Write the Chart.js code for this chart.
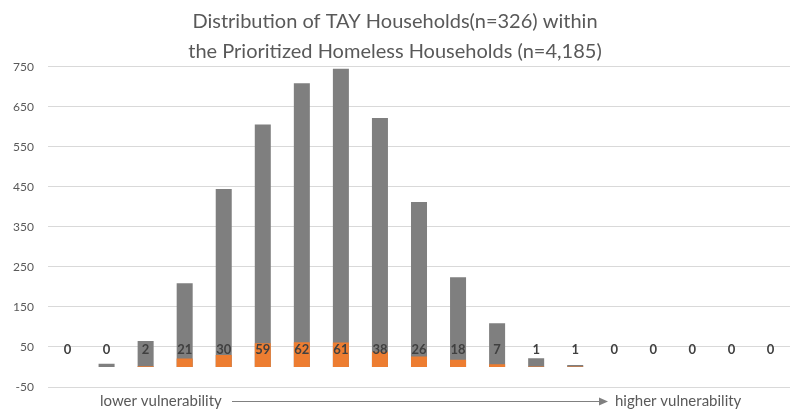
<!DOCTYPE html>
<html>
<head>
<meta charset="utf-8">
<script src="https://cdn.jsdelivr.net/npm/chart.js@4.4.1/dist/chart.umd.min.js"></script>
<style>
  html, body { margin: 0; padding: 0; background: #fff; }
  #wrap { width: 794px; height: 409px; }
</style>
</head>
<body>
<div id="wrap"><canvas id="myBarChart" width="794" height="409"></canvas></div>
<script>
const ctx = document.querySelector("#myBarChart").getContext("2d")

// vulnerability score buckets, low to high
const scores = ["0", "1", "2", "3", "4", "5", "6", "7", "8", "9", "10", "11", "12", "13", "14", "15", "16", "17", "18"]
// all prioritized homeless households per score
const allHouseholds = [0, 8, 65, 209, 445, 606, 709, 745, 622, 412, 224, 109, 22, 5, 0, 0, 0, 0, 0]
// TAY households per score
const tayHouseholds = [0, 0, 2, 21, 30, 59, 62, 61, 38, 26, 18, 7, 1, 1, 0, 0, 0, 0, 0]

const titleLines = ["Distribution of TAY Households(n=326) within", "the Prioritized Homeless Households (n=4,185)"]
const lowText = "lower vulnerability"
const highText = "higher vulnerability"

const textGray = "#595959"

// TAY counts written just above the zero line
const countLabels = {
    id: "countLabels",
    afterDatasetsDraw(chart) {
        const c = chart.ctx
        const meta = chart.getDatasetMeta(0)
        const y0 = chart.scales.y.getPixelForValue(0)
        c.save()
        c.font = "bold 13px Lato"
        c.fillStyle = "#404040"
        c.textAlign = "center"
        c.textBaseline = "middle"
        meta.data.forEach((bar, i) => {
            c.fillText(String(tayHouseholds[i]), bar.x, y0 - 17)
        })
        c.restore()
    }
}

// "lower -> higher" arrow under the plot
const vulnerabilityArrow = {
    id: "vulnerabilityArrow",
    afterDraw(chart) {
        const c = chart.ctx
        const y = 401
        c.save()
        c.font = "15px Lato"
        c.fillStyle = textGray
        c.textBaseline = "middle"
        c.textAlign = "left"
        c.fillText(lowText, 100, y)
        c.fillText(highText, 615, y)
        c.strokeStyle = "#808080"
        c.lineWidth = 1
        c.beginPath()
        c.moveTo(232, y + 0.5)
        c.lineTo(600, y + 0.5)
        c.stroke()
        c.fillStyle = "#808080"
        c.beginPath()
        c.moveTo(599, y - 3.5)
        c.lineTo(608, y + 0.5)
        c.lineTo(599, y + 4.5)
        c.closePath()
        c.fill()
        c.restore()
    }
}

new Chart(ctx, {
    type: "bar",
    data: {
        labels: scores,
        datasets: [
            {
                label: "TAY",
                data: tayHouseholds,
                backgroundColor: "#ed7d31",
                inflateAmount: 0,
                order: 0
            },
            {
                label: "All",
                data: allHouseholds,
                backgroundColor: "#7f7f7f",
                order: 1
            }
        ]
    },
    options: {
        responsive: false,
        animation: false,
        layout: { padding: { left: 0, right: 4, top: 0, bottom: 22 } },
        datasets: {
            bar: {
                grouped: false,
                categoryPercentage: 1,
                barPercentage: 0.41
            }
        },
        plugins: {
            legend: { display: false },
            tooltip: { enabled: false },
            title: {
                display: true,
                text: titleLines,
                color: textGray,
                font: { family: "Lato", size: 20, weight: "normal", lineHeight: 1.47 },
                padding: { top: 7, bottom: 1 }
            }
        },
        scales: {
            x: { display: false },
            y: {
                min: -50,
                max: 750,
                afterFit: (scale) => { scale.width = 48 },
                afterBuildTicks: (scale) => {
                    scale.ticks = []
                    for (let v = -50; v <= 750; v += 100) scale.ticks.push({ value: v })
                },
                ticks: {
                    color: textGray,
                    font: { family: "Lato", size: 12 },
                    padding: 14
                },
                grid: { color: "#d9d9d9", drawTicks: false },
                border: { display: false }
            }
        }
    },
    plugins: [countLabels, vulnerabilityArrow]
})
</script>
</body>
</html>
